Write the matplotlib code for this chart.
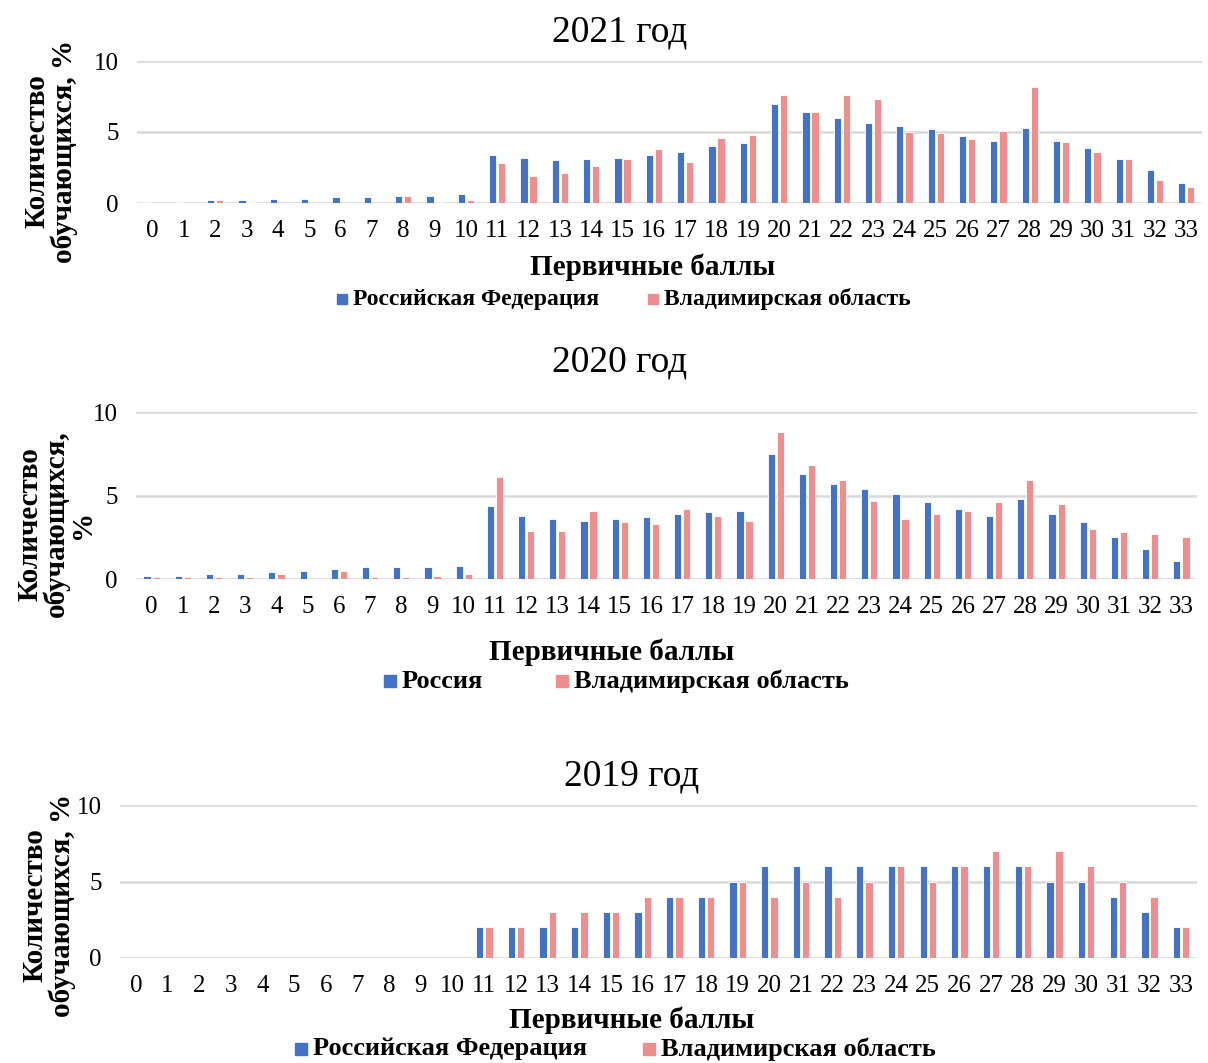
import matplotlib
matplotlib.use("Agg")
import numpy as np
from matplotlib import pyplot as plt
from matplotlib.patches import Rectangle

scores = list(range(34))

rf_2021 = [0.08, 0.08, 0.2, 0.2, 0.3, 0.3, 0.4, 0.4, 0.5, 0.5, 0.6, 3.4, 3.2, 3.0, 3.1, 3.2, 3.4,
           3.6, 4.0, 4.2, 7.0, 6.4, 6.0, 5.6, 5.4, 5.2, 4.7, 4.4, 5.3, 4.4, 3.9, 3.1, 2.3, 1.4]
vo_2021 = [0, 0, 0.2, 0.1, 0, 0, 0, 0, 0.5, 0.1, 0.2, 2.8, 1.9, 2.1, 2.6, 3.1, 3.8,
           2.9, 4.6, 4.8, 7.6, 6.4, 7.6, 7.3, 5.0, 4.9, 4.5, 5.1, 8.2, 4.3, 3.6, 3.1, 1.6, 1.1]

rf_2020 = [0.2, 0.2, 0.3, 0.3, 0.4, 0.5, 0.6, 0.7, 0.7, 0.7, 0.8, 4.4, 3.8, 3.6, 3.5, 3.6, 3.7,
           3.9, 4.0, 4.1, 7.5, 6.3, 5.7, 5.4, 5.1, 4.6, 4.2, 3.8, 4.8, 3.9, 3.4, 2.5, 1.8, 1.1]
vo_2020 = [0.1, 0.1, 0.1, 0.1, 0.3, 0, 0.5, 0.1, 0.1, 0.2, 0.3, 6.1, 2.9, 2.9, 4.1, 3.4, 3.3,
           4.2, 3.8, 3.5, 8.8, 6.8, 5.9, 4.7, 3.6, 3.9, 4.1, 4.6, 5.9, 4.5, 3.0, 2.8, 2.7, 2.5]

rf_2019 = [0, 0, 0, 0, 0, 0, 0, 0, 0, 0, 0, 2, 2, 2, 2, 3, 3,
           4, 4, 5, 6, 6, 6, 6, 6, 6, 6, 6, 6, 5, 5, 4, 3, 2]
vo_2019 = [0, 0, 0, 0, 0, 0, 0, 0, 0, 0, 0, 2, 2, 3, 3, 3, 4,
           4, 4, 5, 4, 5, 4, 5, 6, 5, 6, 7, 6, 7, 6, 5, 4, 2]

BLUE = "#4472C4"
PINK = "#EF8E8E"
GRID = "#D9D9D9"
SERIF = "Liberation Serif"

W, H = 1208, 1063
fig = plt.figure(figsize=(W / 100, H / 100), dpi=100)


def px_rect(left, top, right, bottom):
    return [left / W, 1 - bottom / H, (right - left) / W, (bottom - top) / H]


def ftext(x, y, s, **kw):
    kw.setdefault("family", SERIF)
    return fig.text(x / W, 1 - y / H, s, **kw)


def legend_entry(x, y, color, label, size, box):
    fig.patches.append(Rectangle((x / W, 1 - (y + box / 2) / H), box / W, box / H,
                                 color=color, transform=fig.transFigure))
    ftext(x + box + 6, y, label, fontsize=size, weight="bold", va="center", ha="left")


def draw_panel(rect, rf, vo):
    ax = fig.add_axes(px_rect(*rect))
    x = np.arange(len(scores))
    ax.bar(x - 0.145, rf, width=0.23, color=BLUE, edgecolor="white", linewidth=0.6, zorder=3)
    ax.bar(x + 0.145, vo, width=0.23, color=PINK, edgecolor="white", linewidth=0.6, zorder=3)
    ax.set_xlim(-0.5, len(scores) - 0.5)
    ax.set_ylim(0, 10)
    ax.set_yticks([0, 5, 10])
    ax.set_xticks(x)
    ax.set_xticklabels([str(s) for s in scores])
    for side in ax.spines.values():
        side.set_visible(False)
    ax.grid(axis="y", color=GRID, linewidth=1.8, zorder=0)
    ax.tick_params(axis="both", length=0, labelsize=18)
    ax.tick_params(axis="x", pad=12)
    ax.tick_params(axis="y", pad=13)
    for lab in ax.get_xticklabels() + ax.get_yticklabels():
        lab.set_family(SERIF)
    return ax


# 2021
ftext(620, 32, "2021 год", fontsize=27, ha="center", va="center")
draw_panel((137, 61, 1202, 203), rf_2021, vo_2021)
ftext(51, 151, "Количество\nобучающихся, %", fontsize=21, weight="bold",
      rotation=90, ha="center", va="center", linespacing=1.0)
ftext(653, 267, "Первичные баллы", fontsize=21, weight="bold", ha="center", va="center")
legend_entry(337, 299, BLUE, "Российская Федерация", 17, 10)
legend_entry(648, 299, PINK, "Владимирская область", 17, 10)

# 2020
ftext(620, 362, "2020 год", fontsize=27, ha="center", va="center")
draw_panel((136, 412, 1197, 579), rf_2020, vo_2020)
ftext(56, 524, "Количество\nобучающихся,\n%", fontsize=21, weight="bold",
      rotation=90, ha="center", va="center", linespacing=0.95)
ftext(612, 652, "Первичные баллы", fontsize=21, weight="bold", ha="center", va="center")
legend_entry(384, 681, BLUE, "Россия", 19, 12)
legend_entry(556, 681, PINK, "Владимирская область", 19, 12)

# 2019
ftext(632, 776, "2019 год", fontsize=27, ha="center", va="center")
draw_panel((120, 805, 1197, 958), rf_2019, vo_2019)
ftext(49, 905, "Количество\nобучающихся, %", fontsize=21, weight="bold",
      rotation=90, ha="center", va="center", linespacing=1.0)
ftext(632, 1020, "Первичные баллы", fontsize=21, weight="bold", ha="center", va="center")
legend_entry(295, 1049, BLUE, "Российская Федерация", 19, 12)
legend_entry(643, 1049, PINK, "Владимирская область", 19, 12)

fig.savefig("out.png", dpi=100)
